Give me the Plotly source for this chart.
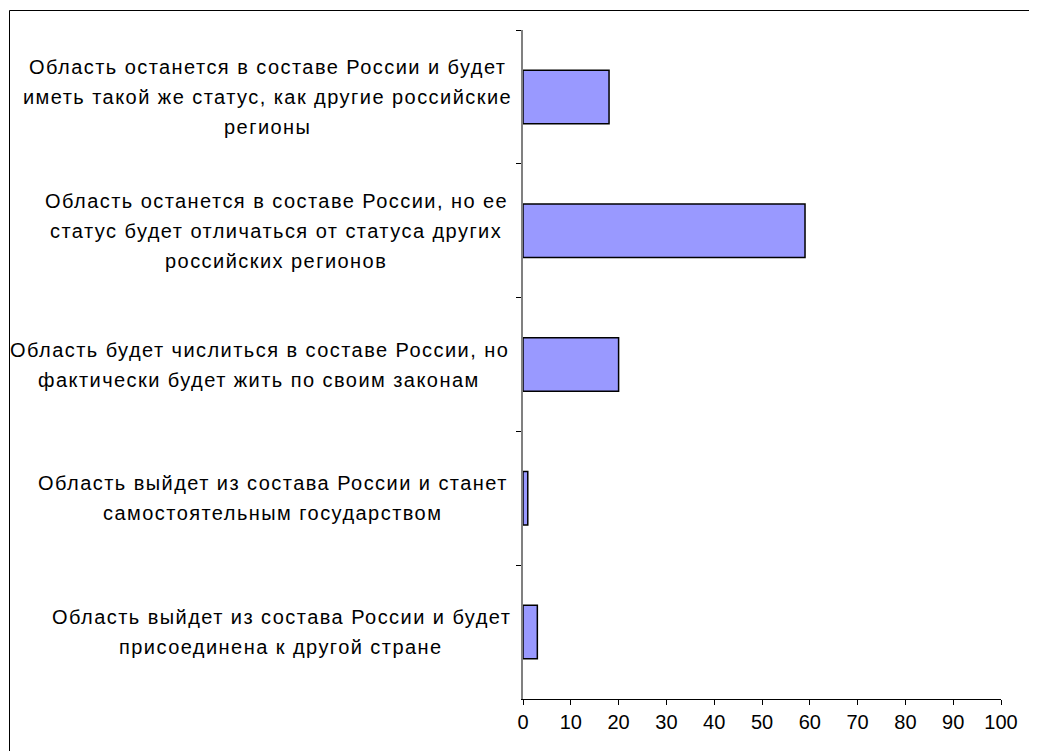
import plotly.graph_objects as go

categories = [
    "Область останется в составе России и будет|иметь такой же статус, как другие российские|регионы",
    "Область останется в составе России, но ее|статус будет отличаться от статуса других|российских регионов",
    "Область будет числиться в составе России, но|фактически будет жить по своим законам",
    "Область выйдет из состава России и станет|самостоятельным государством",
    "Область выйдет из состава России и будет|присоединена к другой стране",
]
values = [18, 59, 20, 1, 3]

# horizontal centre (screen px) of each label block
label_centers_px = [267.5, 276, 259, 272.5, 281]

W, H = 1037, 751
OFF = 8  # page body margin
L_M, R_M, T_M, B_M = 523 - OFF, 36 + OFF, 30 - OFF, 52 + OFF
pw, ph = W - L_M - R_M, H - T_M - B_M

FS = 20
LS = "1.45px"
LINE_GAP = 30

fig = go.Figure(go.Bar(
    y=categories, x=values, orientation="h",
    marker=dict(color="#9999FF", line=dict(color="black", width=1.5)),
    width=0.4,
))

annotations = []
for cat, cx in zip(categories, label_centers_px):
    lines = cat.split("|")
    n = len(lines)
    for i, ln in enumerate(lines):
        annotations.append(dict(
            text=f"<span style='letter-spacing:{LS}'>{ln}</span>",
            x=(cx - 523) / pw, xref="paper",
            y=cat, yref="y", xanchor="center", yanchor="middle",
            showarrow=False,
            yshift=-(i - (n - 1) / 2) * LINE_GAP,
            font=dict(family="Liberation Sans, Arial", size=FS, color="black"),
        ))

fig.update_layout(
    width=W, height=H, margin=dict(l=L_M, r=R_M, t=T_M, b=B_M),
    paper_bgcolor="white", plot_bgcolor="white", showlegend=False,
    font=dict(family="Liberation Sans, Arial", size=FS, color="black"),
    annotations=annotations,
    shapes=[dict(type="rect", xref="paper", yref="paper",
                 x0=(9.5 - 523) / pw, x1=(W + 10 - 523) / pw,
                 y0=-(H + 10 - 699) / ph, y1=1 + (30 - 10.5) / ph,
                 line=dict(color="black", width=1), fillcolor="rgba(0,0,0,0)",
                 layer="below")],
)
fig.update_xaxes(range=[0, 100], dtick=10, showgrid=False, zeroline=False,
                 showline=True, linecolor="black", linewidth=1,
                 ticks="outside", ticklen=5, tickcolor="black",
                 tickfont=dict(size=FS, color="black"))
fig.update_yaxes(autorange="reversed", showgrid=False, zeroline=False,
                 showline=True, linecolor="#808080", linewidth=1.5,
                 ticks="outside", ticklen=5, tickcolor="black",
                 tickson="boundaries", showticklabels=False)

fig.write_html("out.html")
